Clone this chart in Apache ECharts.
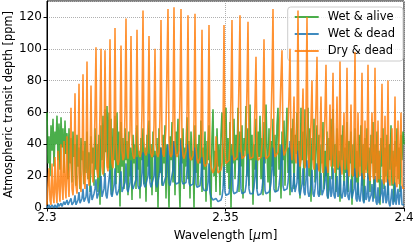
<!DOCTYPE html>
<html><head><meta charset="utf-8">
<script src="https://cdn.jsdelivr.net/npm/echarts@6/dist/echarts.min.js"></script>
<style>html,body{margin:0;padding:0;background:#fff}#c{width:415px;height:249px}</style>
</head><body><div id="c"></div>
<script>
// Wavelength grid: one sample per plotted pixel column from 2.3 to 2.4 um
const wlStart = 2.3, wlEnd = 2.4;
const xTicks = [2.3, 2.35, 2.4];
const yTicks = [0, 20, 40, 60, 80, 100, 120];
const seriesNames = ['Wet & alive', 'Wet & dead', 'Dry & dead'];
const yTitle = 'Atmospheric transit depth [ppm]';

const wetAlive = [
60,28,45,20,52,36,56,26,48,40,
58,30,53,24,57,38,50,22,55,34,
47,18,50,28,44,16,48,32,40,14,
46,26,38,12,44,30,36,15,42,22,
48,18,35,10,45,28,38,14,50,24,
40,10,46,2,52,30,58,20,62,35,
64,25,60,18,56,8,50,30,58,15,
60,22,48,1,54,26,44,12,50,30,
42,8,48,20,38,5,46,28,40,12,
52,24,36,6,44,30,50,15,38,4,
46,26,55,18,40,8,48,32,36,10,
44,0,50,22,38,14,46,28,52,6,
40,24,0,45,30,54,16,42,8,48,
34,56,20,0,44,28,50,12,38,26,
57,18,42,6,48,30,36,0,52,22,
40,14,46,28,55,10,38,24,48,4,
42,30,52,16,0,44,62,20,36,10,
50,26,40,8,46,60,34,14,58,63,
22,44,12,54,0,40,28,56,18,46,
30,63,10,48,26,52,6,44,36,64,
20,50,14,65,30,46,2,40,24,56,
12,48,32,58,18,44,8,54,28,65,
36,16,50,4,42,26,56,20,46,10,
52,63,24,40,6,48,30,55,14,44,
63,22,38,8,50,28,56,12,46,34,
60,18,42,6,63,30,48,14,62,26,
40,63,20,50,4,44,30,56,16,38,
52,24,46,8,40,28,54,12,36,20,
48,6,44,30,56,18,62,26,40,10,
50,24,36,4,46,30,52,14,38,22,
54,10,42,28,48,2,40,20,50,16,
36,8,46,26,52,14,40,4,44,24,
50,18,38,10,46,28,54,6,40,22,
48,16,36,2,44,26,50,12,38,20,
46,8,40,24,52,14,36,4,42,26,
50,18,38,10,46,30,48,40];

const wetDead = [
0,1,2,0,0,2,1,0,2,1,
0,3,1,0,3,1,1,4,2,1,
5,2,1,3,6,2,1,4,8,2,
2,5,10,3,2,6,12,4,3,7,
15,5,3,8,14,5,4,9,12,18,
6,5,10,15,20,7,6,12,22,8,
6,12,18,24,9,7,8,14,25,10,
8,8,12,18,23,10,9,10,16,28,
12,10,10,16,30,14,12,11,12,18,
32,14,12,12,14,22,35,15,13,12,
14,20,34,16,13,12,13,20,33,15,
13,12,14,24,38,16,14,13,13,20,
32,40,16,14,14,15,24,42,17,15,
14,15,16,28,43,17,15,14,14,16,
24,40,16,14,14,14,15,22,38,15,
13,12,12,14,20,32,13,11,10,10,
11,16,28,10,7,6,5,4,4,6,
5,4,4,4,5,7,12,26,10,8,
8,8,9,14,22,33,11,9,9,9,
10,15,26,35,12,9,9,9,10,14,
24,34,12,9,8,8,9,13,20,30,
11,8,8,8,9,12,18,32,11,9,
8,9,10,12,16,25,38,12,10,10,
10,11,14,20,30,40,14,11,10,11,
12,16,24,42,13,10,14,22,10,9,
16,36,11,8,9,15,25,10,8,18,
30,10,7,10,16,24,9,7,12,20,
28,9,7,13,22,8,7,12,18,26,
8,6,11,20,7,10,25,8,6,12,
20,7,9,26,8,6,10,17,7,9,
24,7,5,10,18,6,5,12,25,6,
4,16,6,4,10,22,5,3,14,5,
7,22,4,3,8,15,4,3,20,4,
2,13,3,6,9,18,3,2,14,3,
5,18,3,1,6,12,2,4,16,2,
1,12,2,2,14,2,1,2];

const dryDead = [
2,15,25,5,2,28,8,3,32,10,
3,36,12,4,40,14,5,42,15,6,
45,18,7,30,63,12,8,20,72,14,
9,22,78,15,10,24,84,18,12,26,
92,20,14,28,77,22,16,30,60,101,
24,19,32,60,100,26,21,34,99,40,
26,23,36,106,40,28,25,40,113,42,
30,27,30,45,102,36,30,32,60,119,
38,31,30,48,108,40,33,31,33,50,
112,40,34,32,35,60,124,42,35,33,
36,55,108,40,34,32,34,52,100,40,
34,32,35,58,118,42,34,32,33,50,
90,125,42,34,32,34,55,126,42,34,
32,33,36,70,125,40,33,31,32,36,
60,121,40,32,30,30,33,55,122,38,
31,28,28,32,50,112,36,28,26,26,
28,45,115,34,26,24,22,22,26,45,
30,22,21,22,24,28,48,115,35,28,
27,28,30,42,70,118,36,30,29,30,
32,45,80,121,38,31,30,31,33,45,
75,117,38,31,30,30,32,42,65,95,
36,30,29,30,32,40,60,106,38,31,
30,31,33,40,52,80,125,40,32,31,
32,35,42,60,82,99,40,33,32,33,
38,50,70,100,38,30,45,70,32,28,
55,124,35,26,30,50,75,30,25,60,
120,34,25,35,55,80,30,24,40,65,
95,30,23,45,70,28,22,40,60,90,
28,22,38,65,26,35,85,28,22,40,
70,25,30,92,28,21,35,60,24,32,
88,26,20,38,65,22,20,45,98,26,
19,60,24,20,40,85,24,18,55,22,
30,90,22,17,35,60,20,18,88,22,
16,55,18,30,40,78,18,15,58,16,
25,80,18,14,30,50,15,20,70,16,
13,55,15,14,60,15,12,13];

function pairs(vals){
  const step = (wlEnd - wlStart) / 357;
  return vals.map((v, i) => [wlStart + i * step, v]);
}

const colors = ['#2ca02c', '#1f77b4', '#ff7f0e'];
const font = 'DejaVu Sans';
const chart = echarts.init(document.getElementById('c'), null, {renderer: 'canvas'});
const dataSets = [wetAlive, wetDead, dryDead];

chart.setOption({
  animation: false,
  backgroundColor: '#fff',
  grid: {left: 47, right: 11, top: 1, bottom: 41, containLabel: false, outerBoundsMode: 'none',
    show: true, borderColor: '#000', borderWidth: 1, backgroundColor: 'transparent'},
  graphic: [{
    type: 'text', x: 9, y: 104.5, rotation: Math.PI / 2,
    style: {text: yTitle, fontFamily: font, fontSize: 11.4, fill: '#000', align: 'center', verticalAlign: 'middle'}
  }],
  legend: {
    data: seriesNames, orient: 'vertical', right: 12, top: 7,
    backgroundColor: 'rgba(255,255,255,0.8)', borderColor: '#cccccc', borderWidth: 1, borderRadius: 3,
    padding: [4, 8, 4, 7], itemGap: 5, itemWidth: 24, itemHeight: 2, icon: 'rect',
    textStyle: {fontFamily: font, fontSize: 11.5, color: '#000', padding: [0,0,0,4]}
  },
  xAxis: {
    type: 'value', min: xTicks[0], max: xTicks[xTicks.length-1], interval: 0.05,
    name: 'Wavelength [{i|μ}m]', nameLocation: 'middle', nameGap: 22,
    nameTextStyle: {fontFamily: font, fontSize: 12, color: '#000', rich: {i: {fontStyle: 'italic', fontFamily: font, fontSize: 12}}},
    axisLine: {lineStyle: {color: '#000', width: 1}},
    axisTick: {length: 3.5, lineStyle: {color: '#000'}},
    axisLabel: {fontFamily: font, fontSize: 12, color: '#000', margin: 4,
      formatter: v => { const r = Math.round(v*100)/100; return xTicks.includes(r) ? String(r) : ''; }},
    splitLine: {show: true, lineStyle: {color: '#b0b0b0', type: 'dotted', width: 1}}
  },
  yAxis: {
    type: 'value', min: 0, max: 130, interval: 20,
    axisLine: {show: true, lineStyle: {color: '#000', width: 1}},
    axisTick: {show: true, length: 3.5, lineStyle: {color: '#000'}},
    axisLabel: {fontFamily: font, fontSize: 12, color: '#000', margin: 5, showMaxLabel: false,
      formatter: v => yTicks.includes(v) ? String(v) : ''},
    splitLine: {show: true, lineStyle: {color: '#b0b0b0', type: 'dotted', width: 1}}
  },
  series: dataSets.map((d, k) => ({
    name: seriesNames[k], type: 'line', data: pairs(d), showSymbol: false, symbol: 'none',
    color: colors[k], lineStyle: {color: colors[k], width: 1.6, opacity: 0.85},
    itemStyle: {color: colors[k], opacity: 0.85},
    clip: true, z: 2 + k
  }))
});
</script></body></html>
